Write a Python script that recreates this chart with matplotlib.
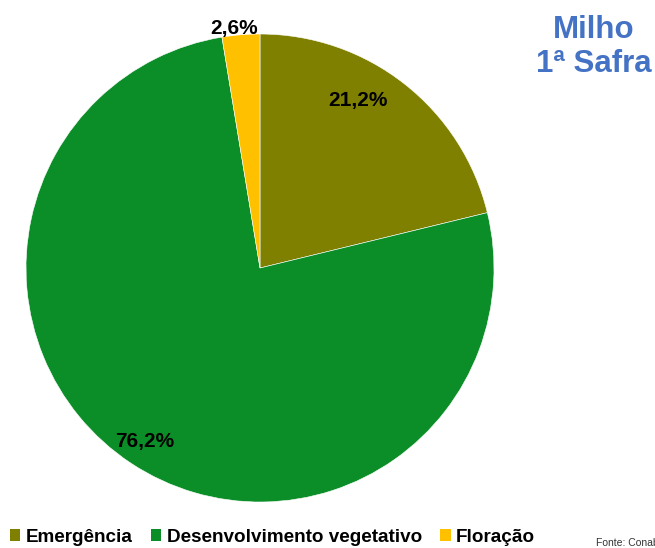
import numpy as np
import matplotlib.pyplot as plt
from matplotlib.patches import Patch

plt.rcParams['font.family'] = ['Liberation Sans', 'DejaVu Sans']

categorias = ['Emergência', 'Desenvolvimento vegetativo', 'Floração']
valores = [21.2, 76.2, 2.6]
rotulos = ['21,2%', '76,2%', '2,6%']
cores = ['#808000', '#0B8E28', '#FFC000']

W, H = 655, 548
fig = plt.figure(figsize=(W / 100, H / 100), dpi=100)
ax = fig.add_axes([0, 0, 1, 1])

cx, cy, r = 260, H - 268, 234
wedges, _ = ax.pie(valores, colors=cores, startangle=90, counterclock=False,
                   center=(cx, cy), radius=r, frame=True,
                   wedgeprops=dict(edgecolor='white', linewidth=0.4))
ax.set_xlim(0, W)
ax.set_ylim(0, H)
ax.set_aspect('equal')
ax.axis('off')

# label placement: (fraction of radius, angle nudge in degrees)
pos_rot = [(0.83, 8), (0.89, 0), (1.03, 1.5)]
for w, lab, (f, da) in zip(wedges, rotulos, pos_rot):
    ang = np.deg2rad((w.theta1 + w.theta2) / 2 + da)
    ax.text(cx + f * r * np.cos(ang), cy + f * r * np.sin(ang), lab,
            ha='center', va='center', fontsize=15, fontweight='bold', color='black')

fig.text(594 / W, 1 - 47 / H, 'Milho\n1ª Safra', ha='center', va='center',
         fontsize=22.5, fontweight='bold', color='#4472C4', linespacing=1.2)

handles = [Patch(facecolor=c, edgecolor='none') for c in cores]
fig.legend(handles, categorias, ncol=3, loc='center left',
           bbox_to_anchor=(10 / W, 1 - 537 / H), frameon=False,
           prop=dict(size=13.6, weight='bold'),
           handlelength=0.55, handleheight=0.55, handletextpad=0.3,
           columnspacing=0.95, borderaxespad=0, borderpad=0)

fig.text(596 / W, 1 - 543 / H, 'Fonte: Conab', ha='left', va='center',
         fontsize=7.5, color='#333333')

fig.savefig('out.png', dpi=100)
